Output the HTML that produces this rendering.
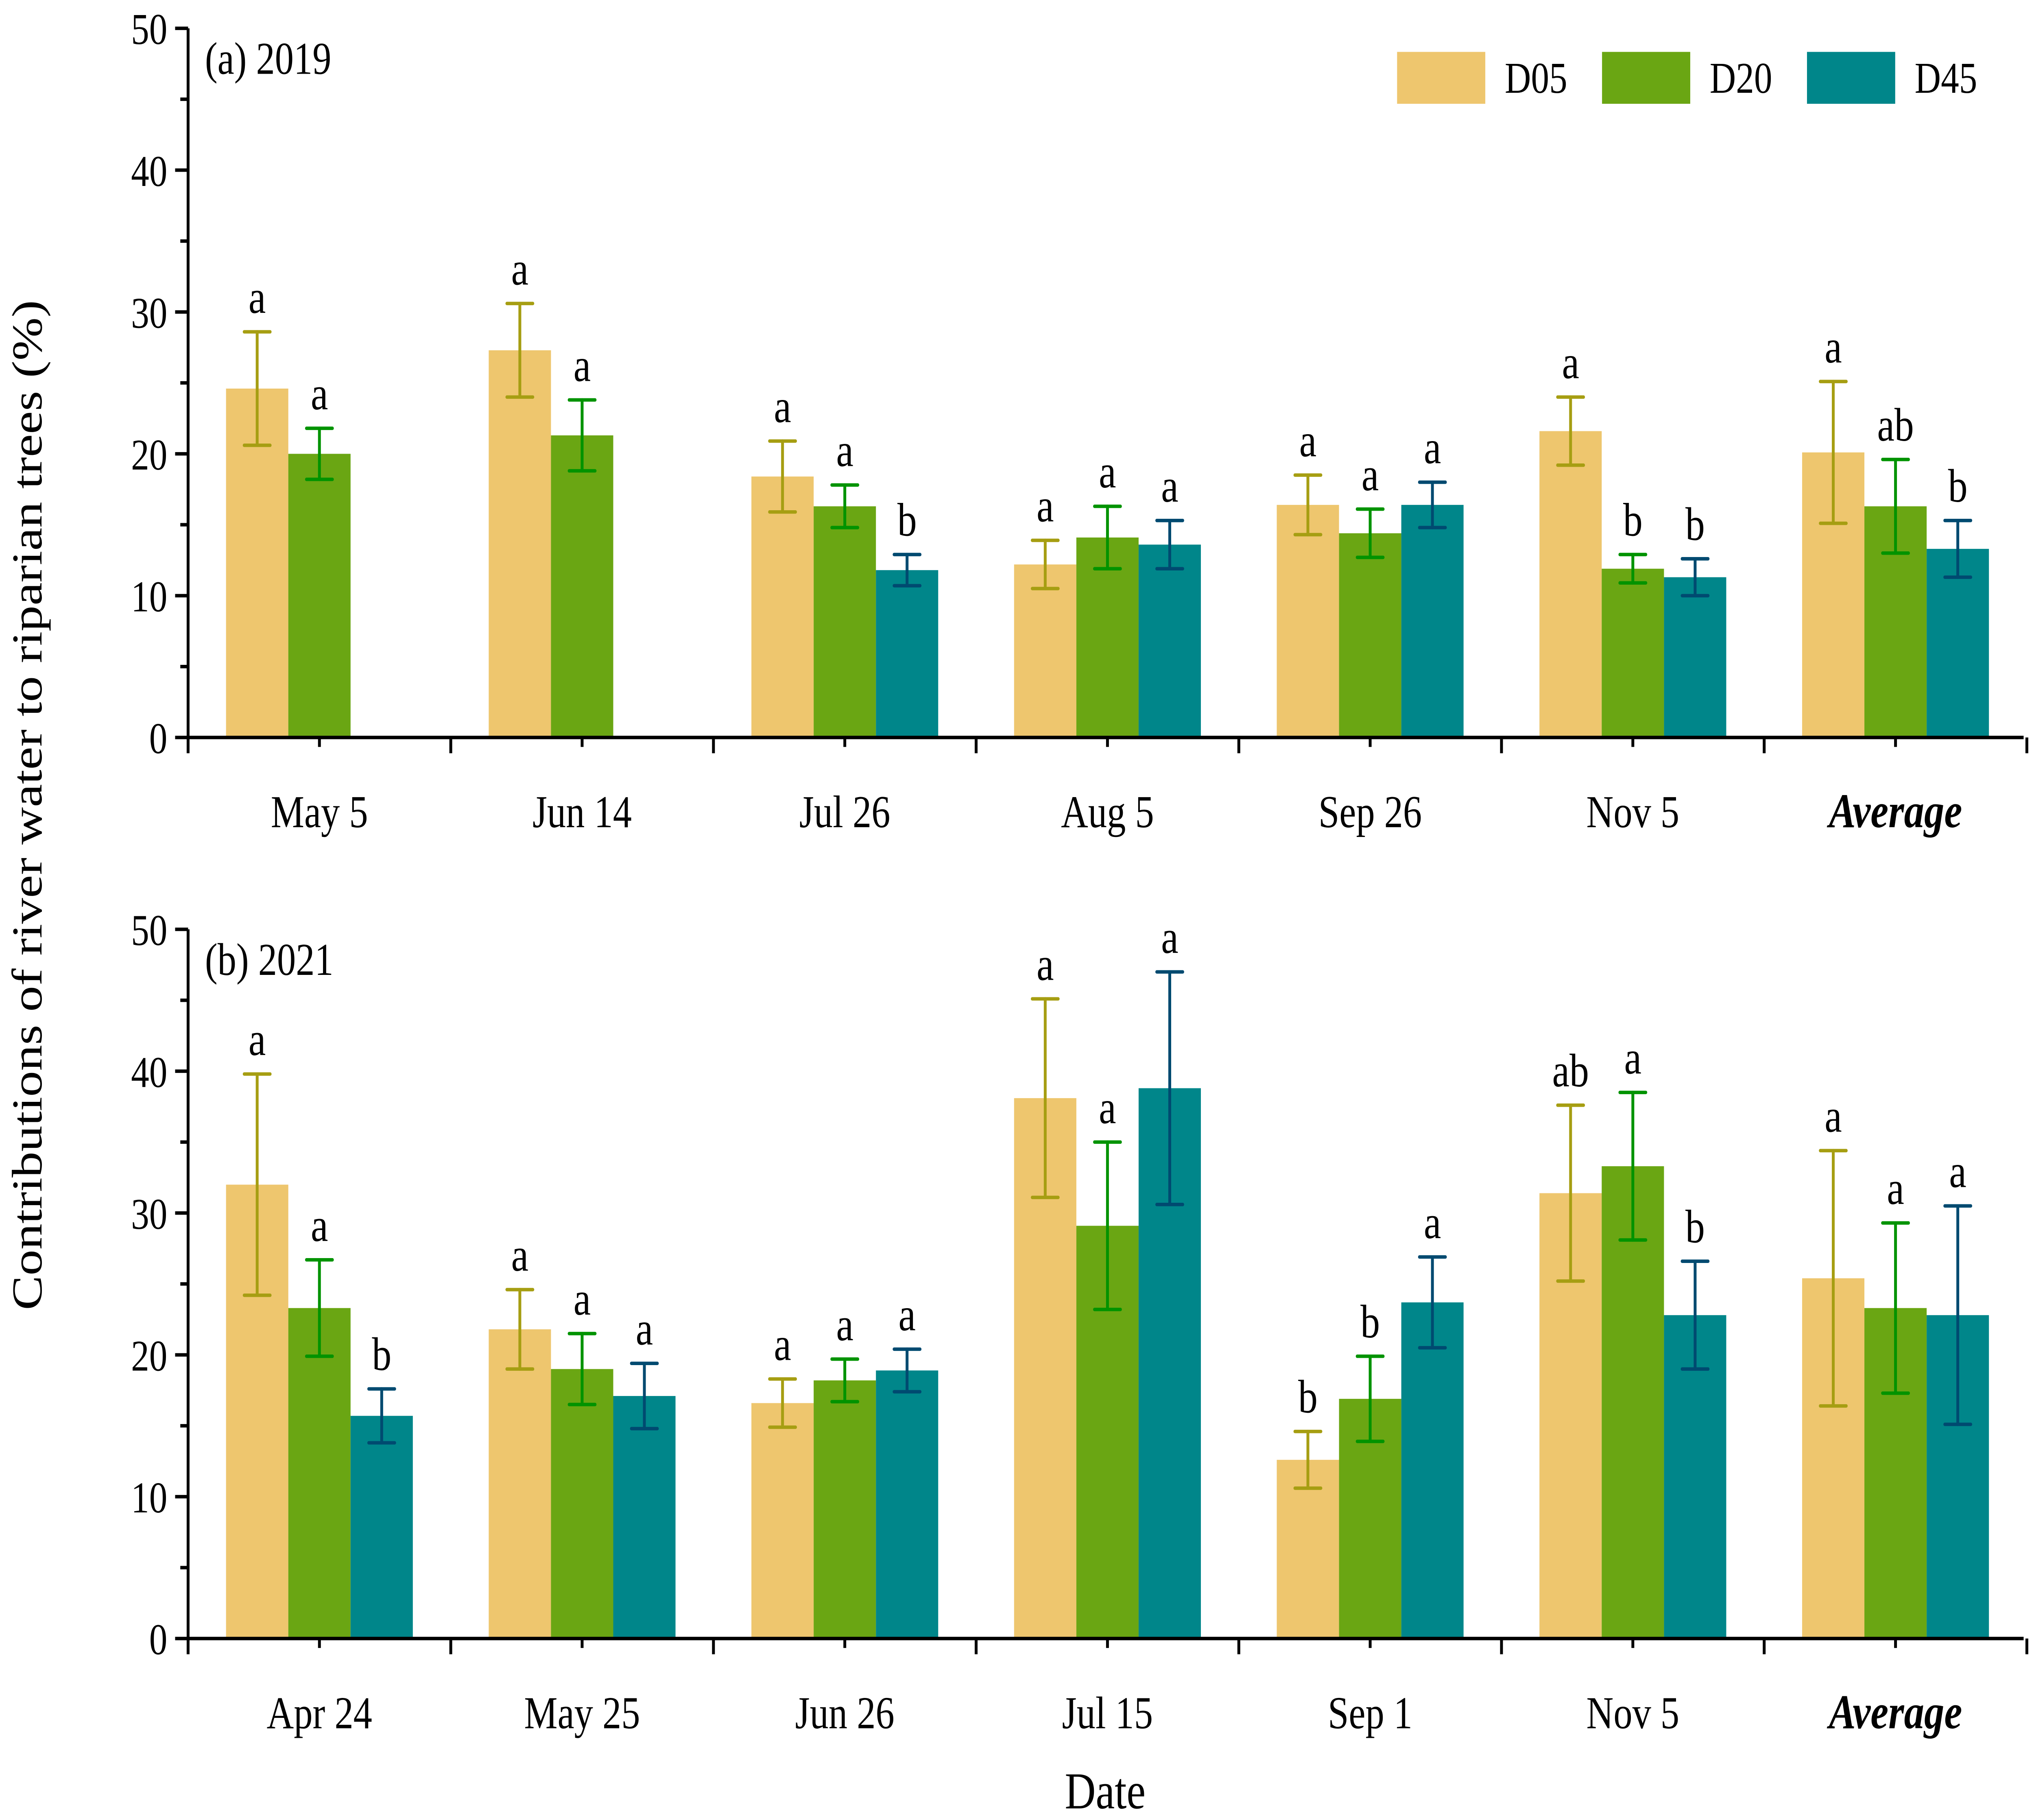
<!DOCTYPE html>
<html><head><meta charset="utf-8"><style>
html,body{margin:0;padding:0;background:#fff;width:100vw;height:100vh;overflow:hidden;}
svg{display:block;width:100vw;height:100vh;}
text{font-family:"Liberation Serif",serif;fill:#000;}
</style></head><body>
<svg id="chart" xmlns="http://www.w3.org/2000/svg" viewBox="0 0 1568 1157.4" preserveAspectRatio="none">
<g id="root"></g>
</svg>
<script>
const seriesNames = ["D05","D20","D45"];
const catsA = ["May 5","Jun 14","Jul 26","Aug 5","Sep 26","Nov 5","Average"];
const meanA_D05 = [24.6,27.3,18.4,12.2,16.4,21.6,20.1];
const errA_D05  = [4.0,3.3,2.5,1.7,2.1,2.4,5.0];
const meanA_D20 = [20.0,21.3,16.3,14.1,14.4,11.9,16.3];
const errA_D20  = [1.8,2.5,1.5,2.2,1.7,1.0,3.3];
const meanA_D45 = [null,null,11.8,13.6,16.4,11.3,13.3];
const errA_D45  = [null,null,1.1,1.7,1.6,1.3,2.0];
const letA_D05 = ["a","a","a","a","a","a","a"];
const letA_D20 = ["a","a","a","a","a","b","ab"];
const letA_D45 = ["","","b","a","a","b","b"];
const catsB = ["Apr 24","May 25","Jun 26","Jul 15","Sep 1","Nov 5","Average"];
const meanB_D05 = [32.0,21.8,16.6,38.1,12.6,31.4,25.4];
const errB_D05  = [7.8,2.8,1.7,7.0,2.0,6.2,9.0];
const meanB_D20 = [23.3,19.0,18.2,29.1,16.9,33.3,23.3];
const errB_D20  = [3.4,2.5,1.5,5.9,3.0,5.2,6.0];
const meanB_D45 = [15.7,17.1,18.9,38.8,23.7,22.8,22.8];
const errB_D45  = [1.9,2.3,1.5,8.2,3.2,3.8,7.7];
const letB_D05 = ["a","a","a","a","b","ab","a"];
const letB_D20 = ["a","a","a","a","b","a","a"];
const letB_D45 = ["b","a","a","a","a","b","a"];
const yTicks = [0,10,20,30,40,50];

const NS="http://www.w3.org/2000/svg";
const root=document.getElementById('root');
function el(tag,attrs,parent){const e=document.createElementNS(NS,tag);for(const k in attrs)e.setAttribute(k,attrs[k]);(parent||root).appendChild(e);return e;}
const fills=["#EEC66E","#6AA613","#00868A"];
const errCols=["#A69E12","#009300","#004A70"];
const X0=145,X1=1560,catW=202.5,barW=48;
function xc(i){return X0+catW*(i+0.5);}

function panel(name,y0,y50,cats,means,errs,lets,title){
  const g=el('g',{});
  
  
  const ys=v=>y0+(y50-y0)*v/50;
  for(let s=0;s<3;s++){
    for(let i=0;i<cats.length;i++){
      const m=means[s][i]; if(m==null) continue;
      const cx=xc(i)+(s-1)*barW;
      const r=el('rect',{x:cx-barW/2,y:ys(m),width:barW,height:y0-ys(m),fill:fills[s]},g);
      
      
      const e=errs[s][i];
      const eg=el('g',{stroke:errCols[s],'stroke-width':2.2,'stroke-linecap':'round'},g);
      
      
      el('line',{x1:cx,x2:cx,y1:ys(m+e),y2:ys(m-e)},eg);
      el('line',{x1:cx-10,x2:cx+10,y1:ys(m+e),y2:ys(m+e)},eg);
      el('line',{x1:cx-10,x2:cx+10,y1:ys(m-e),y2:ys(m-e)},eg);
      const t=el('text',{x:cx,y:ys(m+e)-12,'font-size':30,'text-anchor':'middle'},g);
      t.textContent=lets[s][i];
      
      
    }
  }
  const ax=el('g',{stroke:'#000','stroke-width':2.2},g);
  
  
  el('line',{x1:X0,x2:X0,y1:y50,y2:y0+1},ax);
  el('line',{x1:X0-1,x2:X1,y1:y0,y2:y0},ax);
  for(let v=0;v<=50;v+=5){const L=v%10===0?10:6;el('line',{x1:X0-L,x2:X0,y1:ys(v),y2:ys(v)},ax);}
  for(let k=0;k<=7;k++){const x=X0+catW*k;el('line',{x1:x,x2:x,y1:y0,y2:y0+10},ax);}
  for(let i=0;i<7;i++){el('line',{x1:xc(i),x2:xc(i),y1:y0,y2:y0+6},ax);}
  yTicks.forEach(v=>{const t=el('text',{x:X0-16,y:ys(v)+10,'font-size':28,'text-anchor':'end'},g);t.textContent=v;
    });
  cats.forEach((c,i)=>{const avg=c==='Average';const t=el('text',{x:xc(i),y:y0+57,'font-size':avg?31:29,'text-anchor':'middle','font-weight':avg?'bold':'normal','font-style':avg?'italic':'normal'},g);t.textContent=c;
    });
  const tt=el('text',{x:158,y:ys(50)+29,'font-size':29},g);tt.textContent=title;
  
}
panel('panel-2019',469,18,catsA,[meanA_D05,meanA_D20,meanA_D45],[errA_D05,errA_D20,errA_D45],[letA_D05,letA_D20,letA_D45],'(a) 2019');
panel('panel-2021',1042,591,catsB,[meanB_D05,meanB_D20,meanB_D45],[errB_D05,errB_D20,errB_D45],[letB_D05,letB_D20,letB_D45],'(b) 2021');

const lg=el('g',{});


const lx=[1077,1235,1393];
seriesNames.forEach((n,s)=>{
  const r=el('rect',{x:lx[s],y:33,width:68,height:33,fill:fills[s]},lg);
  
  
  const t=el('text',{x:lx[s]+83,y:59,'font-size':28},lg);t.textContent=n;
  
  
});
const yl=el('text',{x:0,y:0,'font-size':33,'text-anchor':'middle',transform:'translate(32,512) rotate(-90)'});
yl.textContent='Contributions of river water to riparian trees (%)';


const xl=el('text',{x:852,y:1150,'font-size':33,'text-anchor':'middle'});
xl.textContent='Date';


</script>
</body></html>
